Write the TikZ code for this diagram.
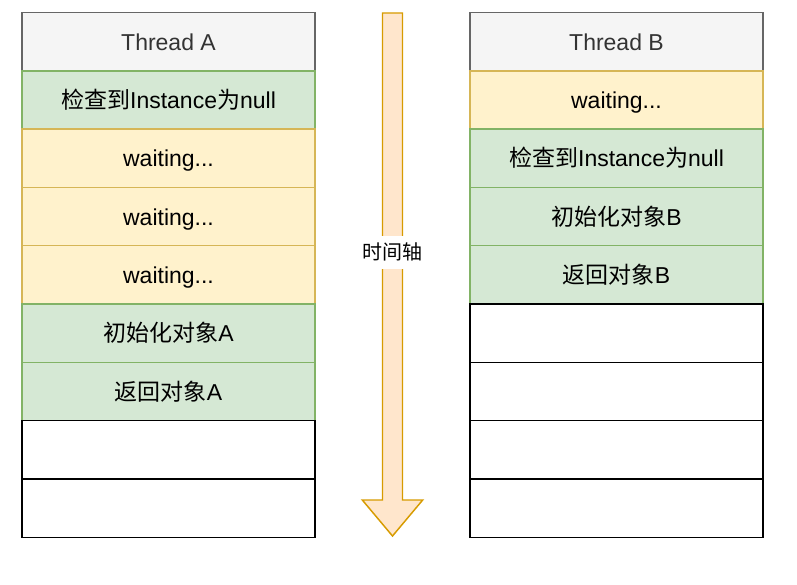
\documentclass[tikz,border=0pt]{standalone}
\usepackage{fontspec}
\setmainfont{Liberation Sans}
\newfontfamily\cjk{Noto Sans CJK SC}
\definecolor{hdrfill}{HTML}{F5F5F5}
\definecolor{hdrline}{HTML}{666666}
\definecolor{hdrtext}{HTML}{333333}
\definecolor{grnfill}{HTML}{D5E8D4}
\definecolor{grnline}{HTML}{82B366}
\definecolor{ylwfill}{HTML}{FFF2CC}
\definecolor{ylwline}{HTML}{D6B656}
\definecolor{arrfill}{HTML}{FFE6CC}
\definecolor{arrline}{HTML}{D79B00}
\begin{document}
\begin{tikzpicture}[x=0.75pt,y=-0.75pt,
  cell/.style={draw, line width=1.1pt, minimum width=219.75pt, minimum height=43.73pt, inner sep=0pt, text height=13pt, text depth=0pt, text=black, font=\fontsize{17.25}{20}\selectfont},
  hdr/.style={cell, fill=hdrfill, draw=hdrline, text=hdrtext},
  grn/.style={cell, fill=grnfill, draw=grnline},
  ylw/.style={cell, fill=ylwfill, draw=ylwline},
  emp/.style={cell, fill=white, draw=black},
  axis/.style={fill=arrfill, draw=arrline, line width=1.1pt, line join=miter},
  axislabel/.style={fill=white, inner xsep=1pt, inner ysep=0pt, minimum height=24.75pt, text height=11pt, text depth=0pt, font=\cjk\fontsize{15}{18}\selectfont}]
\useasboundingbox (0,0) rectangle (797,585);
% left column
\node[hdr] (a0) at (168.5,41.66) {Thread A};
\node[grn] (a1) at (168.5,99.97) {{\cjk 检查到}Instance{\cjk 为}null};
\node[ylw] (a2) at (168.5,158.28) {waiting...};
\node[ylw] (a3) at (168.5,216.59) {waiting...};
\node[ylw] (a4) at (168.5,274.9) {waiting...};
\node[grn] (a5) at (168.5,333.2) {{\cjk 初始化对象}A};
\node[grn] (a6) at (168.5,391.5) {{\cjk 返回对象}A};
\node[emp] (a7) at (168.5,449.8) {};
\node[emp] (a8) at (168.5,508.1) {};
% right column
\node[hdr] (b0) at (616.5,41.66) {Thread B};
\node[ylw] (b1) at (616.5,99.97) {waiting...};
\node[grn] (b2) at (616.5,158.28) {{\cjk 检查到}Instance{\cjk 为}null};
\node[grn] (b3) at (616.5,216.59) {{\cjk 初始化对象}B};
\node[grn] (b4) at (616.5,274.9) {{\cjk 返回对象}B};
\node[emp] (b5) at (616.5,333.2) {};
\node[emp] (b6) at (616.5,391.5) {};
\node[emp] (b7) at (616.5,449.8) {};
\node[emp] (b8) at (616.5,508.1) {};
% time axis
\draw[axis] (382.5,13) -- (402.5,13) -- (402.5,500) -- (422.7,500) -- (392.5,536) -- (362.3,500) -- (382.5,500) -- cycle;
\node[axislabel] (tl) at (392.5,252) {时间轴};
\end{tikzpicture}
\end{document}
